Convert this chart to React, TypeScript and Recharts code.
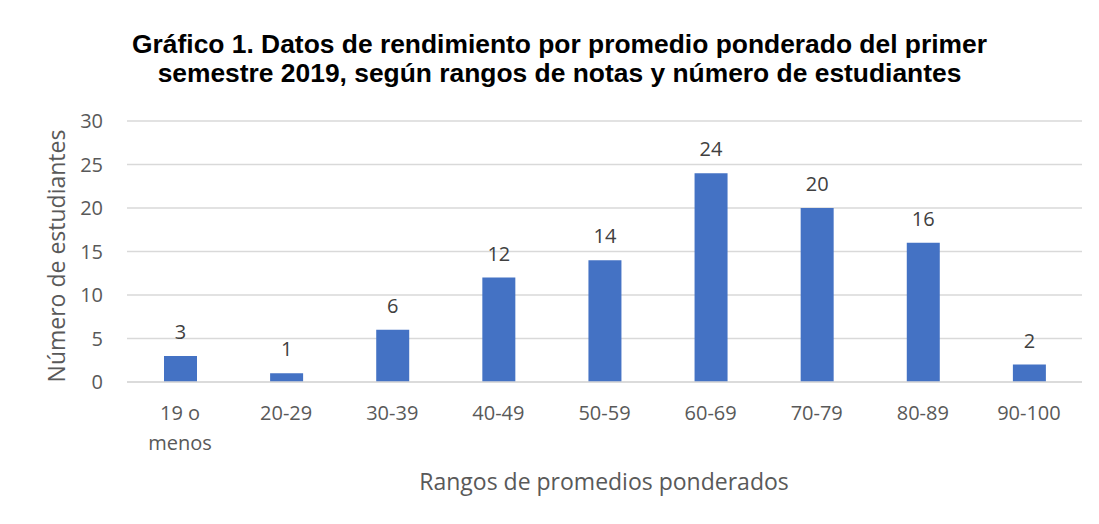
import React from 'react';
import { BarChart, Bar, XAxis, YAxis, CartesianGrid, LabelList } from 'recharts';

const categories = ['19 o menos', '20-29', '30-39', '40-49', '50-59', '60-69', '70-79', '80-89', '90-100'];
const students = [3, 1, 6, 12, 14, 24, 20, 16, 2];
const yTicks = [0, 5, 10, 15, 20, 25, 30];
const titleLines = [
  'Gráfico 1. Datos de rendimiento por promedio ponderado del primer',
  'semestre 2019, según rangos de notas y número de estudiantes',
];
const xTitle = 'Rangos de promedios ponderados';
const yTitle = 'Número de estudiantes';

const data = categories.map((c, i) => ({ range: c, value: students[i] }));

const W = 1091;
const H = 516;
const FONT = '"Open Sans", sans-serif';

const XTick = (props: any) => {
  const { x, y, payload } = props;
  const label: string = payload.value;
  const lines = label === '19 o menos' ? ['19 o', 'menos'] : [label];
  return (
    <text x={x} y={y} textAnchor="middle" fill="#595959" fontSize={20} fontFamily={FONT}>
      {lines.map((l, i) => (
        <tspan key={i} x={x} y={y + 38 + i * 30}>
          {l}
        </tspan>
      ))}
    </text>
  );
};

export default function App() {
  return (
    <div style={{ position: 'relative', width: W, height: H, overflow: 'hidden', background: '#fff' }}>
      <div
        style={{
          position: 'absolute',
          left: -2,
          top: -2,
          width: 1300,
          height: 800,
          border: '1.5px solid #d9d9d9',
          boxSizing: 'border-box',
        }}
      />
      <div style={{ position: 'absolute', left: 0, top: 0 }}>
        <BarChart
          width={W}
          height={H}
          data={data}
          margin={{ top: 113, right: 17, left: 0, bottom: 0 }}
          barCategoryGap={0}
        >
          <CartesianGrid vertical={false} stroke="#d9d9d9" strokeWidth={1.3} />
          <XAxis
            dataKey="range"
            height={142}
            tickSize={0}
            tickMargin={0}
            axisLine={{ stroke: '#d9d9d9', strokeWidth: 1.5 }}
            tickLine={false}
            interval={0}
            tick={<XTick />}
          />
          <YAxis
            width={119}
            domain={[0, 30]}
            ticks={yTicks}
            axisLine={false}
            tickLine={false}
            tickSize={0}
            tickMargin={24}
            tick={{ fill: '#595959', fontSize: 20, fontFamily: FONT }}
          />
          <Bar dataKey="value" fill="#4472C4" barSize={33} isAnimationActive={false}>
            <LabelList
              dataKey="value"
              position="top"
              offset={17}
              fill="#404040"
              fontSize={20}
              fontFamily={FONT}
            />
          </Bar>
        </BarChart>
      </div>
      <svg
        width={W}
        height={H}
        style={{ position: 'absolute', left: 0, top: 0, pointerEvents: 'none' }}
      >
        {titleLines.map((t, i) => (
          <text
            key={i}
            x={551.5}
            y={45 + i * 29}
            textAnchor="middle"
            fontFamily='"Liberation Sans", Arial, sans-serif'
            fontWeight="bold"
            fontSize={26.4}
            fill="#000"
          >
            {t}
          </text>
        ))}
        <text x={596} y={482} textAnchor="middle" fontFamily={FONT} fontSize={23} fill="#595959">
          {xTitle}
        </text>
        <text
          x={57}
          y={248}
          textAnchor="middle"
          fontFamily={FONT}
          fontSize={23}
          fill="#595959"
          transform="rotate(-90, 57, 248)"
        >
          {yTitle}
        </text>
      </svg>
    </div>
  );
}
